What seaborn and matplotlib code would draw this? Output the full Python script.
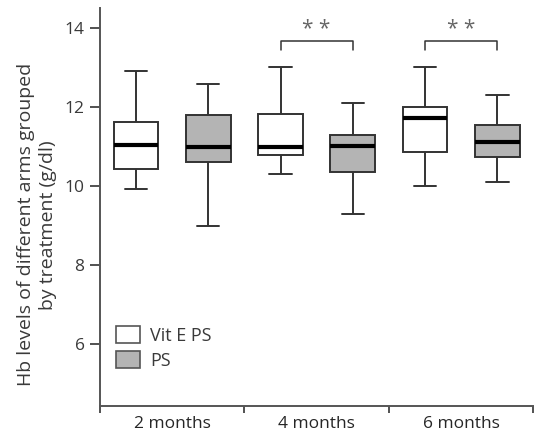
import matplotlib
matplotlib.use("Agg")

import matplotlib.pyplot as plt
import pandas as pd
import seaborn as sns
from matplotlib.patches import Patch

# five-number summaries (min, q1, median, q3, max)
months = ["2 months", "4 months", "6 months"]
groups = ["Vit E PS", "PS"]
vit_e_ps = [
    [9.92, 10.42, 11.04, 11.62, 12.91],
    [10.30, 10.78, 10.99, 11.82, 13.01],
    [10.00, 10.86, 11.72, 12.00, 13.00],
]
ps = [
    [8.99, 10.60, 10.99, 11.80, 12.58],
    [9.28, 10.35, 11.01, 11.27, 12.10],
    [10.10, 10.73, 11.11, 11.54, 12.30],
]
significant = ["4 months", "6 months"]
bracket_y = 13.67
bracket_drop = 0.25

rows = []
for m, a, b in zip(months, vit_e_ps, ps):
    rows += [{"time": m, "treatment": "Vit E PS", "hb": v} for v in a]
    rows += [{"time": m, "treatment": "PS", "hb": v} for v in b]
df = pd.DataFrame(rows)

sns.set_style("ticks")
plt.rcParams["font.family"] = ["Open Sans", "DejaVu Sans"]

edge = "#333333"
gray_fill = "#b4b4b4"
text_col = "#3a3a3a"

fig, ax = plt.subplots(figsize=(5.34, 4.34), dpi=100)
fig.subplots_adjust(left=0.187, right=0.999, bottom=0.065, top=0.982)

sns.boxplot(data=df, x="time", y="hb", hue="treatment", order=months,
            hue_order=groups, palette={"Vit E PS": "white", "PS": gray_fill},
            width=1.0, gap=0.38, whis=(0, 100), linewidth=1.4,
            linecolor=edge, medianprops={"color": "black", "linewidth": 3},
            legend=False, ax=ax)

# significance brackets
for m in significant:
    i = months.index(m)
    x0, x1 = i - 0.25, i + 0.25
    ax.plot([x0, x0, x1, x1],
            [bracket_y - bracket_drop, bracket_y, bracket_y, bracket_y - bracket_drop],
            color=edge, lw=1.1)
    ax.text(i, bracket_y + 0.02, "* *", ha="center", va="bottom",
            fontsize=15, color="#666666")

ax.set_ylim(4.43, 14.5)
ax.set_xlim(-0.5, 2.5)
ax.set_yticks([6, 8, 10, 12, 14])
ax.set_xticks([-0.5, 0.5, 1.5, 2.5])
ax.set_xticklabels([])
ax.set_xticks(range(len(months)), minor=True)
ax.set_xticklabels(months, minor=True)
ax.tick_params(axis="x", which="minor", length=0, pad=7)
ax.tick_params(axis="x", which="major", length=5, width=1.2, color=edge)
ax.tick_params(axis="y", length=7, width=1.2, color=edge, pad=4)
ax.tick_params(labelsize=12.5, labelcolor=text_col)
for lbl in ax.get_xticklabels(minor=True):
    lbl.set_fontsize(12.5)

sns.despine(ax=ax)
for s in ["left", "bottom"]:
    ax.spines[s].set_linewidth(1.4)
    ax.spines[s].set_color("#555555")

ax.set_xlabel("")
ax.set_ylabel("Hb levels of different arms grouped\nby treatment (g/dl)",
              fontsize=14, color=text_col, linespacing=1.25)
ax.yaxis.set_label_coords(-0.099, 0.455)

handles = [Patch(facecolor="white", edgecolor="#555555", lw=1.2, label="Vit E PS"),
           Patch(facecolor=gray_fill, edgecolor="#555555", lw=1.2, label="PS")]
ax.legend(handles=handles, loc="lower left", bbox_to_anchor=(0.0, 0.05),
          frameon=False, handlelength=1.3, handleheight=1.1, handletextpad=0.6,
          labelspacing=0.35, fontsize=13, labelcolor=text_col)

fig.savefig("out.png", dpi=100)
